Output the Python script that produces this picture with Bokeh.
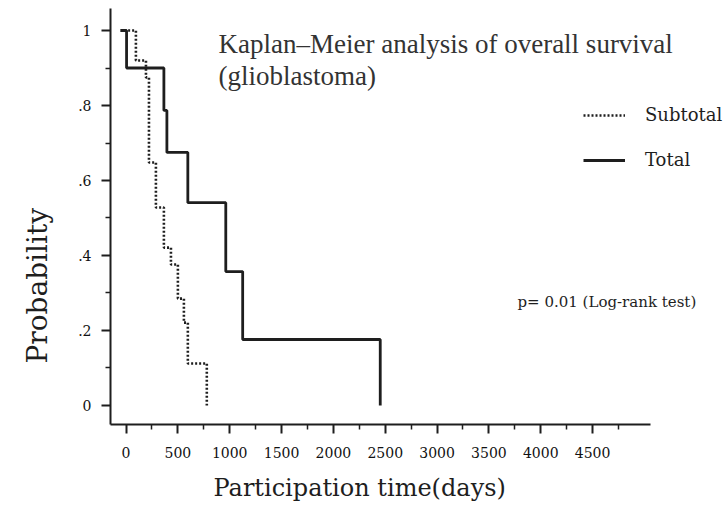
from bokeh.plotting import figure
from bokeh.models import (Range1d, FixedTicker, Label, Legend, LegendItem, Title)
from bokeh.embed import file_html
from bokeh.resources import INLINE

# ---- data ----
total_days = [-55, 5, 365, 394, 596, 962, 1125, 2452]
total_prob = [1.0, 0.90, 0.787, 0.675, 0.541, 0.357, 0.176, 0.0]

subtotal_days = [20, 95, 192, 221, 288, 365, 433, 500, 558, 596, 779]
subtotal_prob = [1.0, 0.92, 0.875, 0.648, 0.528, 0.421, 0.376, 0.285, 0.221, 0.112, 0.0]

x_ticks = [0, 500, 1000, 1500, 2000, 2500, 3000, 3500, 4000, 4500]
x_minor = [250, 750, 1250, 1750, 2250, 2750, 3250, 3750, 4250, 4750]
y_ticks = [0, 0.2, 0.4, 0.6, 0.8, 1.0]
y_tick_labels = ["0", ".2", ".4", ".6", ".8", "1"]
y_minor = [0.1, 0.3, 0.5, 0.7, 0.9]

series_names = ["Subtotal", "Total"]
title_lines = ["Kaplan\u2013Meier analysis of overall survival", "(glioblastoma)"]
p_text = "p= 0.01 (Log-rank test)"
x_label = "Participation time(days)"
y_label = "Probability"

INK = "#1e1e1e"
SERIF = "DejaVu Serif"

p = figure(width=726, height=514, output_backend="svg", toolbar_location=None,
           x_range=Range1d(-150, 5792), y_range=Range1d(-0.0507, 1.0587),
           min_border_left=110, min_border_right=0, min_border_top=8,
           min_border_bottom=90)
p.outline_line_color = None
p.xgrid.visible = False
p.ygrid.visible = False
p.background_fill_color = "white"
p.border_fill_color = "white"

for ax in (p.xaxis[0], p.yaxis[0]):
    ax.axis_line_color = INK
    ax.axis_line_width = 2
    ax.major_tick_line_color = INK
    ax.minor_tick_line_color = INK
    ax.major_tick_line_width = 2
    ax.minor_tick_line_width = 1.5
    ax.major_tick_in = 0
    ax.minor_tick_in = 0
    ax.major_tick_out = 9
    ax.minor_tick_out = 5
    ax.major_label_text_font = SERIF
    ax.major_label_text_font_size = "14px"
    ax.major_label_text_color = "#111111"

p.xaxis[0].ticker = FixedTicker(ticks=x_ticks, minor_ticks=x_minor)
p.xaxis[0].major_label_standoff = 13
p.xaxis[0].bounds = (-150, 5059)
p.yaxis[0].ticker = FixedTicker(ticks=y_ticks, minor_ticks=y_minor)
p.yaxis[0].major_label_overrides = {t: l for t, l in zip(y_ticks, y_tick_labels)}
p.yaxis[0].major_label_standoff = 10

r_sub = p.step(subtotal_days, subtotal_prob, mode="after", line_color=INK,
               line_width=2.6, line_dash="2 2")
r_tot = p.step(total_days, total_prob, mode="after", line_color=INK,
               line_width=2.8)

legend = Legend(items=[LegendItem(label=series_names[0], renderers=[r_sub]),
                       LegendItem(label=series_names[1], renderers=[r_tot])],
                location=(473, 254), orientation="vertical",
                glyph_width=42, glyph_height=20, label_standoff=20,
                label_text_font=SERIF, label_text_font_size="18px",
                label_text_color=INK, spacing=24, padding=0, margin=0,
                border_line_color=None, background_fill_alpha=0)
p.add_layout(legend, "center")

# annotation texts (screen units relative to the plot frame's bottom-left)
p.add_layout(Label(x=108, y=381, x_units="screen", y_units="screen",
                   text=title_lines[0], text_font="Liberation Serif",
                   text_font_size="27px", text_color="#333333",
                   text_baseline="middle"))
p.add_layout(Label(x=108, y=349, x_units="screen", y_units="screen",
                   text=title_lines[1], text_font="Liberation Serif",
                   text_font_size="27px", text_color="#333333",
                   text_baseline="middle"))
p.add_layout(Label(x=407, y=123, x_units="screen", y_units="screen",
                   text=p_text, text_font=SERIF, text_font_size="15px",
                   text_color=INK, text_baseline="middle"))

xt = Title(text=x_label, align="left", offset=103, text_font=SERIF,
           text_font_size="24px", text_font_style="normal", text_color=INK,
           standoff=22)
p.add_layout(xt, "below")
yt = Title(text=y_label, align="left", offset=61, text_font=SERIF,
           text_font_size="28px", text_font_style="normal", text_color=INK,
           standoff=39, vertical_align="top")
p.add_layout(yt, "left")

open("out.html", "w").write(file_html(p, INLINE))
